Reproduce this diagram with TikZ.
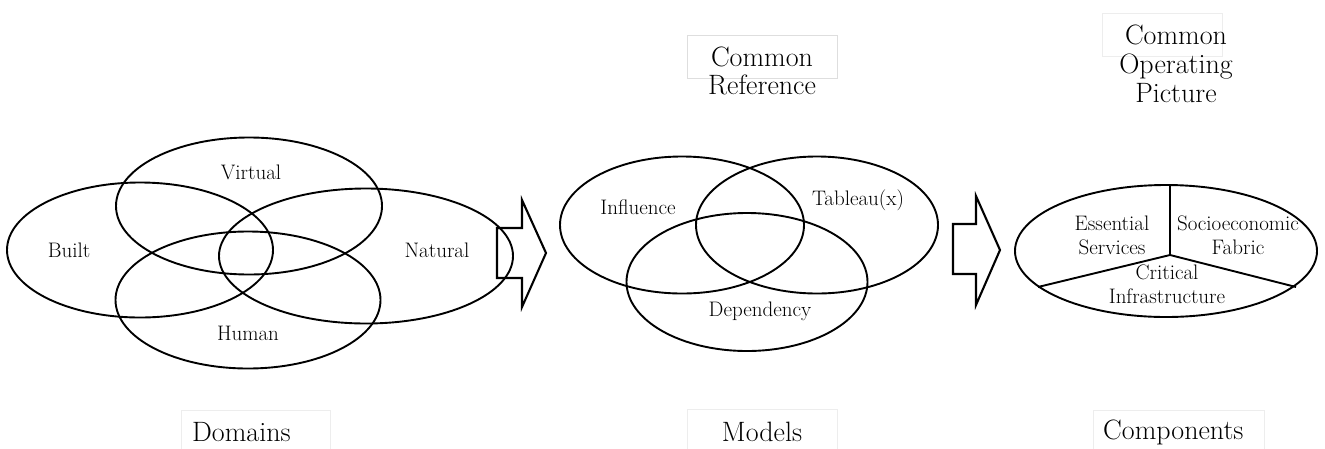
\documentclass[tikz,border=0pt]{standalone}
\usepackage{fontspec}
\usetikzlibrary{shapes.geometric}
\begin{document}
\begin{tikzpicture}[x=1pt,y=-1pt,
  venn/.style={draw, ellipse, line width=1.9pt, inner sep=0pt},
  lbl/.style={font=\fontsize{21}{24}\selectfont, inner sep=0pt, align=center},
  ttl/.style={font=\fontsize{28}{28}\selectfont, inner sep=0pt, align=center},
  tbox/.style={draw=black!13, line width=0.8pt},
  barrow/.style={draw, line width=2.1pt, line join=miter},
  divider/.style={draw, line width=1.9pt}]
\useasboundingbox (0,0) rectangle (1325,448);

% Domains
\node[venn, minimum width=266pt, minimum height=135pt] (built) at (140,250) {};
\node[venn, minimum width=266pt, minimum height=137pt] (virtual) at (249,206) {};
\node[venn, minimum width=265pt, minimum height=137pt] (human) at (248,300) {};
\node[venn, minimum width=294pt, minimum height=135pt] (natural) at (366,256) {};
\node[lbl] (tbuilt) at (69,250) {Built};
\node[lbl] (tvirtual) at (251,172) {Virtual};
\node[lbl] (thuman) at (248,333) {Human};
\node[lbl] (tnatural) at (437,250) {Natural};

% arrow 1
\draw[barrow] (497,228) -- (522,228) -- (522,200) -- (546,253) -- (522,307) -- (522,278) -- (497,278) -- cycle;

% Models
\node[venn, minimum width=244pt, minimum height=137pt] (influence) at (682,225) {};
\node[venn, minimum width=242pt, minimum height=137pt] (tableau) at (817,225) {};
\node[venn, minimum width=241pt, minimum height=138pt] (dependency) at (747,282) {};
\node[lbl] (tinfluence) at (638,207) {Influence};
\node[lbl] (ttableau) at (858,200) {Tableau(x)};
\node[lbl] (tdependency) at (760,311) {Dependency};

% arrow 2
\draw[barrow] (953,224) -- (976,224) -- (976,196) -- (1000,250) -- (976,305) -- (976,274) -- (953,274) -- cycle;

% Components
\node[venn, minimum width=302pt, minimum height=132pt] (cop) at (1166,251) {};
\coordinate (hub) at (1170,255);
\coordinate (ptop) at (1170,185.5);
\coordinate (pleft) at (1038,287);
\coordinate (pright) at (1296,287);
\draw[divider] (hub) -- (ptop);
\draw[divider] (hub) -- (pleft);
\draw[divider] (hub) -- (pright);
\node[lbl] (tess) at (1112,235) {Essential\\Services};
\node[lbl] (tsoc) at (1238,235) {Socioeconomic\\Fabric};
\node[lbl] (tcrit) at (1167,284) {Critical\\Infrastructure};

% title boxes
\draw[tbox] (687,35) rectangle (837,78);
\node[ttl] (tref) at (762,71) {Common\\Reference};
\draw[tbox, draw=black!7] (1102,13) rectangle (1222,56);
\node[ttl, font=\fontsize{28}{29}\selectfont] (tcop) at (1176,64) {Common\\Operating\\Picture};

\draw[tbox, draw=black!7] (181,449) -- (181,410) -- (330,410) -- (330,449);
\node[ttl, anchor=west] (tdom) at (192,432) {Domains};
\draw[tbox, draw=black!7] (687,449) -- (687,409) -- (837,409) -- (837,449);
\node[ttl] (tmod) at (762,432) {Models};
\draw[tbox, draw=black!7] (1093,449) -- (1093,410) -- (1264,410) -- (1264,449);
\node[ttl, anchor=west] (tcomp) at (1103,432) {Components};
\end{tikzpicture}
\end{document}
